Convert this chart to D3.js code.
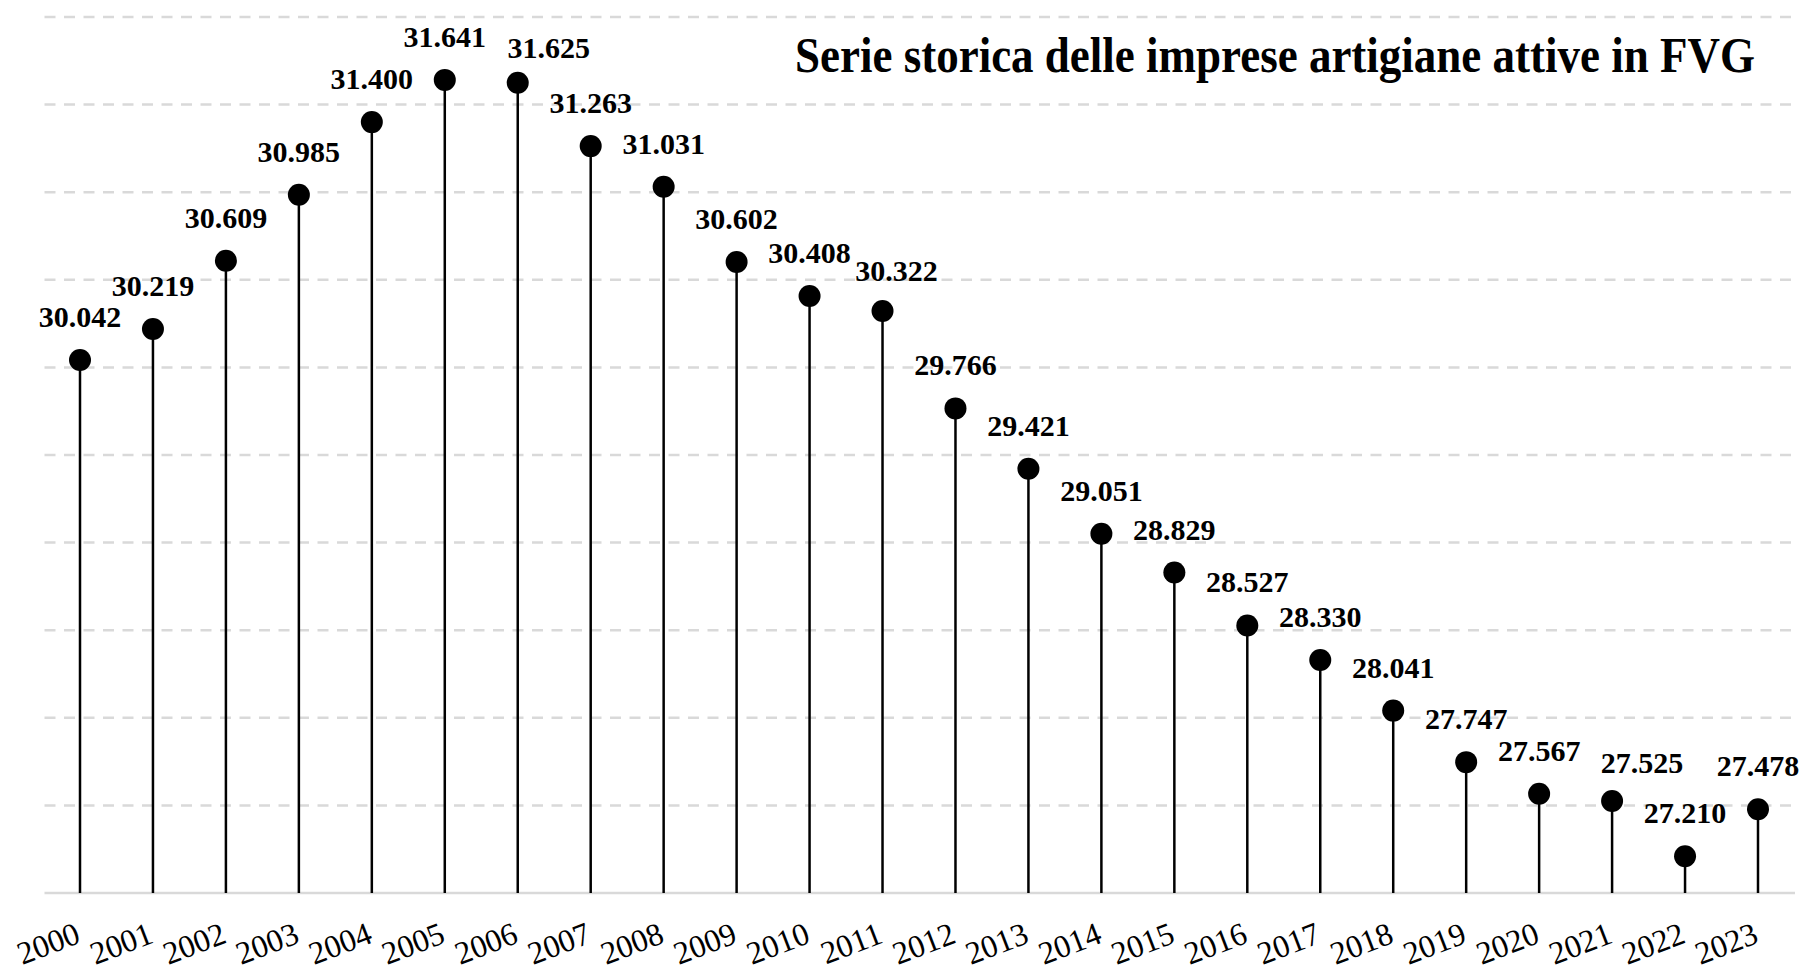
<!DOCTYPE html>
<html lang="it">
<head>
    <meta charset="utf-8">
    <title>Serie storica delle imprese artigiane attive in FVG</title>
    <script src="https://cdn.jsdelivr.net/npm/d3@7"></script>
    <style>
        html, body { margin: 0; padding: 0; background: #ffffff; }
        svg { display: block; font-family: "Liberation Serif", "Times New Roman", serif; }
    </style>
</head>
<body>

<div id="chart"></div>

<script type="text/javascript">
// data
var years = ["2000", "2001", "2002", "2003", "2004", "2005", "2006", "2007", "2008", "2009", "2010", "2011",
             "2012", "2013", "2014", "2015", "2016", "2017", "2018", "2019", "2020", "2021", "2022", "2023"];
var imprese = [30042, 30219, 30609, 30985, 31400, 31641, 31625, 31263, 31031, 30602, 30408, 30322,
               29766, 29421, 29051, 28829, 28527, 28330, 28041, 27747, 27567, 27525, 27210, 27478];
var yTicks = [27000, 27500, 28000, 28500, 29000, 29500, 30000, 30500, 31000, 31500, 32000];
var titleText = "Serie storica delle imprese artigiane attive in FVG";

// hand nudges for a few value labels (like the original)
var labelNudge = { "2006": [31, 8], "2011": [14, 3], "2021": [30, 5] };

var width = 1805, height = 966;

var svg = d3.select("#chart")
            .append("svg")
            .attr("width", width)
            .attr("height", height);

var x = d3.scalePoint()
    .domain(years)
    .range([80, 1758]);

var y = d3.scaleLinear()
    .domain([27000, 32000])
    .range([893, 17]);

var itFormat = d3.formatLocale({ decimal: ",", thousands: ".", grouping: [3], currency: ["", " €"] }).format(",d");

// grid
svg.append("g")
   .attr("class", "grid")
   .selectAll("line")
   .data(yTicks.slice(1))
   .enter().append("line")
   .attr("x1", 44.5)
   .attr("x2", 1795)
   .attr("y1", function(d) { return y(d); })
   .attr("y2", function(d) { return y(d); })
   .attr("stroke", "#d9d9d9")
   .attr("stroke-width", 2.5)
   .attr("stroke-dasharray", "11,8.5");

// baseline
svg.append("line")
   .attr("x1", 44.5)
   .attr("x2", 1795)
   .attr("y1", y(yTicks[0]))
   .attr("y2", y(yTicks[0]))
   .attr("stroke", "#d9d9d9")
   .attr("stroke-width", 2.5);

var data = years.map(function(yr, i) { return { year: yr, value: imprese[i] }; });

// stems
svg.append("g")
   .selectAll("line")
   .data(data)
   .enter().append("line")
   .attr("x1", function(d) { return x(d.year); })
   .attr("x2", function(d) { return x(d.year); })
   .attr("y1", function(d) { return y(d.value); })
   .attr("y2", y(27000))
   .attr("stroke", "#000")
   .attr("stroke-width", 2.5);

// dots
svg.append("g")
   .selectAll("circle")
   .data(data)
   .enter().append("circle")
   .attr("cx", function(d) { return x(d.year); })
   .attr("cy", function(d) { return y(d.value); })
   .attr("r", 11)
   .attr("fill", "#000");

// value labels
svg.append("g")
   .selectAll("text")
   .data(data)
   .enter().append("text")
   .attr("x", function(d) {
       var n = labelNudge[d.year];
       return x(d.year) + (n ? n[0] : 0);
   })
   .attr("y", function(d) {
       var n = labelNudge[d.year];
       return y(d.value) - 33 + (n ? n[1] : 0);
   })
   .attr("text-anchor", "middle")
   .attr("font-size", 30)
   .attr("font-weight", "bold")
   .attr("fill", "#000")
   .text(function(d) { return itFormat(d.value); });

// year labels
svg.append("g")
   .selectAll("text")
   .data(years)
   .enter().append("text")
   .attr("transform", function(d) { return "translate(" + (x(d) + 2) + ",942) rotate(-21)"; })
   .attr("text-anchor", "end")
   .attr("font-size", 32)
   .attr("fill", "#000")
   .text(function(d) { return d; });

// title
svg.append("text")
   .attr("x", 795)
   .attr("y", 72)
   .attr("font-size", 50)
   .attr("font-weight", "bold")
   .attr("textLength", 960)
   .attr("lengthAdjust", "spacingAndGlyphs")
   .attr("fill", "#000")
   .text(titleText);
</script>

</body>
</html>
